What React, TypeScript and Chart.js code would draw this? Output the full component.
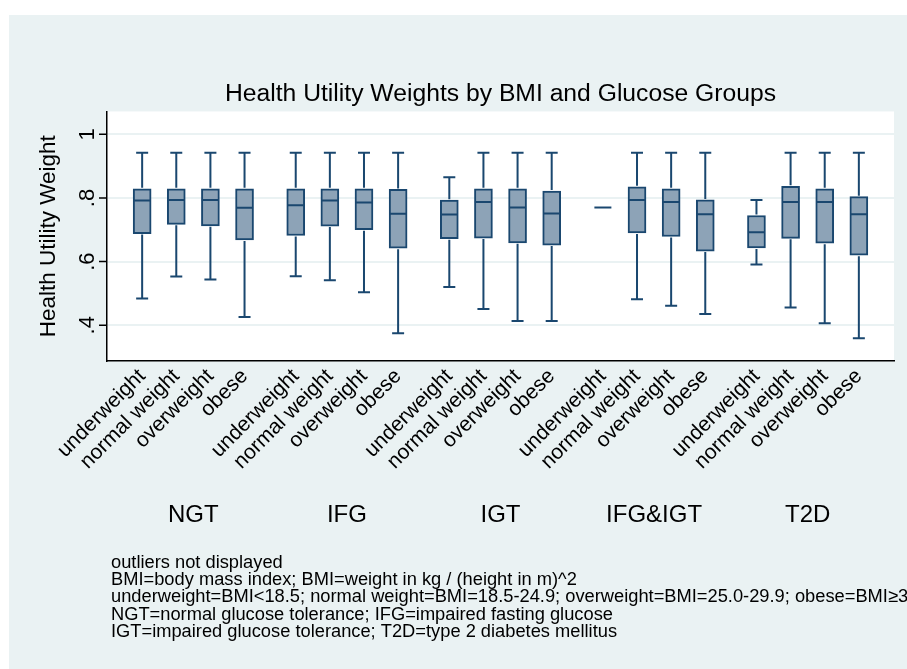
import React, { useEffect, useRef } from 'react';
import { Chart, registerables } from 'chart.js';

Chart.register(...registerables);

// ---- data ----
const groups = ['NGT', 'IFG', 'IGT', 'IFG&IGT', 'T2D'];
const bmiCategories = ['underweight', 'normal weight', 'overweight', 'obese'];

// one entry per box, in order group x BMI category
const lowerAdjacent = [0.484, 0.553, 0.544, 0.426, 0.554, 0.541, 0.504, 0.375, 0.52, 0.451, 0.4135, 0.4135, 0.77, 0.482, 0.4615, 0.435, 0.591, 0.456, 0.406, 0.359];
const q1 = [0.688, 0.717, 0.7125, 0.668, 0.682, 0.7115, 0.7, 0.642, 0.672, 0.674, 0.659, 0.652, 0.77, 0.69, 0.679, 0.633, 0.643, 0.673, 0.658, 0.62];
const medians = [0.792, 0.794, 0.794, 0.769, 0.777, 0.792, 0.786, 0.75, 0.748, 0.7875, 0.77, 0.751, 0.77, 0.794, 0.7875, 0.749, 0.692, 0.7875, 0.7875, 0.749];
const q3 = [0.829, 0.829, 0.829, 0.829, 0.829, 0.829, 0.829, 0.827, 0.793, 0.829, 0.829, 0.822, 0.77, 0.835, 0.829, 0.794, 0.745, 0.8365, 0.829, 0.804];
const upperAdjacent = [0.942, 0.942, 0.942, 0.942, 0.942, 0.942, 0.942, 0.942, 0.865, 0.942, 0.942, 0.942, 0.77, 0.942, 0.942, 0.942, 0.794, 0.942, 0.942, 0.942];

const yTicks = [0.4, 0.6, 0.8, 1];
const yTickLabels = ['.4', '.6', '.8', '1'];

const titleText = 'Health Utility Weights by BMI and Glucose Groups';
const yTitle = 'Health Utility Weight';
const notes = [
  'outliers not displayed',
  'BMI=body mass index; BMI=weight in kg / (height in m)^2',
  'underweight=BMI<18.5; normal weight=BMI=18.5-24.9; overweight=BMI=25.0-29.9; obese=BMI\u226530',
  'NGT=normal glucose tolerance; IFG=impaired fasting glucose',
  'IGT=impaired glucose tolerance; T2D=type 2 diabetes mellitus',
];

// ---- layout helpers ----
const GROUP_STEP = 4.5;
const positions: number[] = [];
groups.forEach((_, g) => bmiCategories.forEach((__, c) => positions.push(g * GROUP_STEP + c)));
const groupCenters = groups.map((_, g) => g * GROUP_STEP + (bmiCategories.length - 1) / 2);

const FONT = "'Liberation Sans', Arial, Helvetica, sans-serif";
const NAVY = '#1A476F';
const FILL = '#8DA3B7';
const BG = '#EAF2F3';

const boxPlugin = {
  id: 'boxExtras',
  beforeDraw(chart: any) {
    const { ctx, chartArea } = chart;
    ctx.save();
    ctx.fillStyle = '#ffffff';
    ctx.fillRect(0, 0, chart.width, chart.height);
    ctx.fillStyle = BG;
    ctx.fillRect(9, 15, chart.width - 9, chart.height - 15);
    ctx.fillStyle = '#ffffff';
    ctx.fillRect(chartArea.left, chartArea.top, chartArea.right - chartArea.left, chartArea.bottom - chartArea.top);
    ctx.restore();
  },
  afterDatasetsDraw(chart: any) {
    const { ctx } = chart;
    const xs = chart.scales.x;
    const ys = chart.scales.y;
    ctx.save();
    ctx.strokeStyle = NAVY;
    ctx.lineWidth = 2;
    ctx.lineCap = 'butt';
    positions.forEach((p, i) => {
      const x = xs.getPixelForValue(p);
      const yLo = ys.getPixelForValue(lowerAdjacent[i]);
      const yQ1 = ys.getPixelForValue(q1[i]);
      const yMed = ys.getPixelForValue(medians[i]);
      const yQ3 = ys.getPixelForValue(q3[i]);
      const yHi = ys.getPixelForValue(upperAdjacent[i]);
      ctx.beginPath();
      if (yHi < yQ3) {
        ctx.moveTo(x, yQ3 - 1);
        ctx.lineTo(x, yHi);
        ctx.moveTo(x - 6, yHi);
        ctx.lineTo(x + 6, yHi);
      }
      if (yLo > yQ1) {
        ctx.moveTo(x, yQ1 + 1);
        ctx.lineTo(x, yLo);
        ctx.moveTo(x - 6, yLo);
        ctx.lineTo(x + 6, yLo);
      }
      ctx.moveTo(x - 8.5, yMed);
      ctx.lineTo(x + 8.5, yMed);
      ctx.stroke();
    });
    ctx.restore();
  },
  afterDraw(chart: any) {
    const { ctx, chartArea } = chart;
    const xs = chart.scales.x;
    const ys = chart.scales.y;
    ctx.save();
    // y tick marks
    ctx.strokeStyle = '#000';
    ctx.lineWidth = 1.5;
    ctx.beginPath();
    yTicks.forEach((v) => {
      const y = ys.getPixelForValue(v);
      ctx.moveTo(chartArea.left - 8, y);
      ctx.lineTo(chartArea.left, y);
    });
    ctx.stroke();
    ctx.fillStyle = '#000';
    // y tick labels (vertical)
    ctx.font = `22px ${FONT}`;
    ctx.textAlign = 'center';
    ctx.textBaseline = 'middle';
    yTicks.forEach((v, i) => {
      const y = ys.getPixelForValue(v);
      ctx.save();
      ctx.translate(88, y);
      ctx.rotate(-Math.PI / 2);
      ctx.fillText(yTickLabels[i], 0, 0);
      ctx.restore();
    });
    // group labels
    ctx.font = `24px ${FONT}`;
    groups.forEach((g, i) => {
      ctx.fillText(g, xs.getPixelForValue(groupCenters[i]), 515);
    });
    // notes
    ctx.font = `18.3px ${FONT}`;
    ctx.textAlign = 'left';
    notes.forEach((n, i) => {
      ctx.fillText(n, 111, 563 + i * 17.2);
    });
    ctx.restore();
  },
};

export default function App() {
  const ref = useRef<HTMLCanvasElement>(null);
  useEffect(() => {
    const chart = new Chart(ref.current as HTMLCanvasElement, {
      type: 'bar',
      data: {
        datasets: [
          {
            data: positions.map((p, i) => ({ x: p, y: [q1[i], q3[i]] })) as any,
            backgroundColor: FILL,
            borderColor: NAVY,
            borderWidth: 2,
            borderSkipped: false,
            barThickness: 18,
          },
        ],
      },
      options: {
        responsive: false,
        animation: false,
        layout: { padding: { left: 0, right: 13, top: 0, bottom: 0 } },
        plugins: {
          legend: { display: false },
          tooltip: { enabled: false },
          title: {
            display: true,
            text: titleText,
            fullSize: false,
            color: '#000',
            font: { family: FONT, size: 24.7, weight: 'normal' as any },
            padding: { top: 79.8, bottom: 2 },
          },
        },
        scales: {
          x: {
            type: 'linear',
            min: -1.03,
            max: 22.03,
            offset: false,
            grid: { display: false, drawTicks: false },
            border: { display: true, color: '#000', width: 1.5 },
            afterBuildTicks: (scale: any) => {
              scale.ticks = positions.map((v) => ({ value: v }));
            },
            afterFit: (scale: any) => {
              scale.height = 308;
            },
            ticks: {
              autoSkip: false,
              minRotation: 45,
              maxRotation: 45,
              padding: 3,
              color: '#000',
              font: { family: FONT, size: 21 },
              callback: (_v: any, i: number) => bmiCategories[i % bmiCategories.length],
            },
          },
          y: {
            type: 'linear',
            min: 0.2875,
            max: 1.072,
            afterBuildTicks: (scale: any) => {
              scale.ticks = yTicks.map((v) => ({ value: v }));
            },
            afterFit: (scale: any) => {
              scale.width = 107;
            },
            grid: {
              color: BG,
              lineWidth: 2,
              drawTicks: false,
            },
            border: { display: true, color: '#000', width: 1.5 },
            ticks: { display: false },
            title: {
              display: true,
              text: yTitle,
              color: '#000',
              font: { family: FONT, size: 22.5 },
              padding: { top: 35, bottom: 0 },
            },
          },
        },
      },
      plugins: [boxPlugin],
    });
    return () => chart.destroy();
  }, []);
  return (
    <canvas
      ref={ref}
      width={907}
      height={669}
      style={{ position: 'fixed', left: 0, top: 0, width: 907, height: 669, display: 'block' }}
    />
  );
}
